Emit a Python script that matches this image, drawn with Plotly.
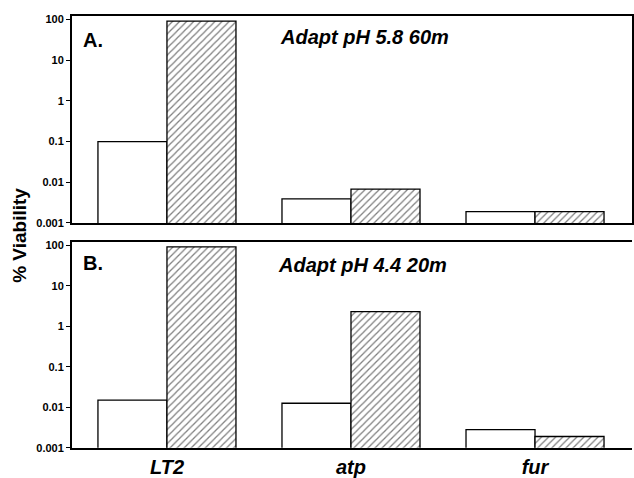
import plotly.graph_objects as go

categories = ["LT2", "atp", "fur"]
# Panel A: Adapt pH 5.8 60m
a_unadapted = [0.1, 0.0039, 0.0019]
a_adapted = [92, 0.0068, 0.0019]
# Panel B: Adapt pH 4.4 20m
b_unadapted = [0.015, 0.0126, 0.0028]
b_adapted = [92, 2.3, 0.0019]
tick_vals = [0.001, 0.01, 0.1, 1, 10, 100]
tick_text = ["0.001", "0.01", "0.1", "1", "10", "100"]

xpos = list(range(len(categories)))
FONT = "Liberation Sans, Arial, sans-serif"
W, H = 634, 478
K = 0.984  # empirical vertical correction


def px(x):
    return x / W


def py(y):
    return 1 - (y / K) / H


fig = go.Figure()


def add_pair(unad, ad, xa, ya):
    fig.add_trace(go.Bar(x=xpos, y=unad, xaxis=xa, yaxis=ya, showlegend=False,
                         marker=dict(color="white", line=dict(color="black", width=1.3))))
    fig.add_trace(go.Bar(x=xpos, y=ad, xaxis=xa, yaxis=ya, showlegend=False,
                         marker=dict(color="white", line=dict(color="black", width=1.3),
                                     pattern=dict(shape="/", fgcolor="black", bgcolor="white",
                                                  size=5, solidity=0.25))))


add_pair(a_unadapted, a_adapted, "x", "y")
add_pair(b_unadapted, b_adapted, "x2", "y2")

xd = [px(72), px(632)]
xr = [-0.516, 2.527]
common_y = dict(type="log", range=[-3, 2.09], tickvals=tick_vals, ticktext=tick_text,
                ticks="outside", ticklen=4, tickwidth=1.2, tickcolor="black",
                showline=True, linecolor="black", linewidth=2, showgrid=False, zeroline=False,
                tickfont=dict(family=FONT, size=11, color="black", weight="bold"))

fig.update_layout(
    width=W, height=H,
    margin=dict(l=0, r=0, t=0, b=0),
    paper_bgcolor="white", plot_bgcolor="white",
    barmode="group", bargap=0.25, bargroupgap=0,
    xaxis=dict(domain=xd, range=xr, anchor="y", showticklabels=False, ticks="",
               showline=True, linecolor="black", linewidth=2, mirror=True, showgrid=False,
               zeroline=False),
    yaxis=dict(domain=[py(222), py(14)], anchor="x", mirror=True, **common_y),
    xaxis2=dict(domain=xd, range=xr, anchor="y2", tickvals=xpos, ticktext=categories,
                ticks="", showline=True, linecolor="black", linewidth=2, mirror=True,
                showgrid=False, zeroline=False,
                tickfont=dict(family=FONT, size=20, color="black", weight="bold", style="italic")),
    yaxis2=dict(domain=[py(448), py(241)], anchor="x2", **common_y),
)

ann_font = dict(family=FONT, size=20, color="black", weight="bold")
title_font = dict(family=FONT, size=20, color="black", weight="bold", style="italic")
fig.add_annotation(text="A.", x=px(81), y=py(38), xref="paper", yref="paper",
                   xanchor="left", yanchor="middle", showarrow=False, font=ann_font)
fig.add_annotation(text="Adapt pH 5.8 60m", x=px(278), y=py(35), xref="paper", yref="paper",
                   xanchor="left", yanchor="middle", showarrow=False, font=title_font)
fig.add_annotation(text="B.", x=px(81), y=py(262), xref="paper", yref="paper",
                   xanchor="left", yanchor="middle", showarrow=False, font=ann_font)
fig.add_annotation(text="Adapt pH 4.4 20m", x=px(276), y=py(264), xref="paper", yref="paper",
                   xanchor="left", yanchor="middle", showarrow=False, font=title_font)
fig.add_annotation(text="% Viability", x=px(20), y=py(235), xref="paper", yref="paper",
                   xanchor="center", yanchor="middle", textangle=-90, showarrow=False,
                   font=dict(family=FONT, size=19, color="black", weight="bold"))

fig.write_html("out.html", config={"displayModeBar": False},
               post_script="document.body.style.margin='0';document.body.style.padding='0';")
